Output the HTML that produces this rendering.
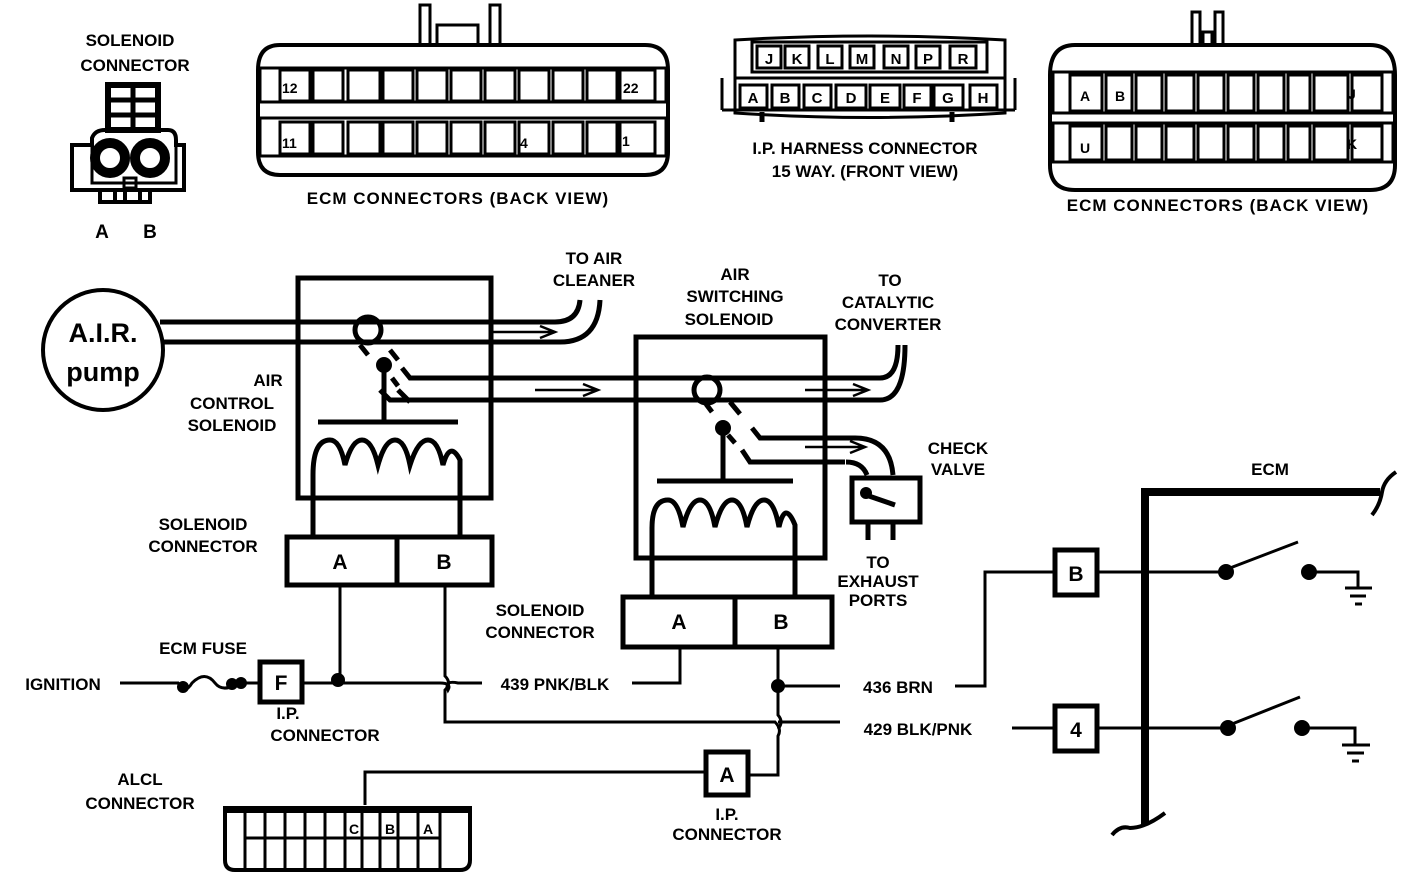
<!DOCTYPE html>
<html><head><meta charset="utf-8"><style>
html,body{margin:0;padding:0;background:#fff;}
svg{display:block;}
text{font-family:"Liberation Sans",sans-serif;font-weight:bold;fill:#000;}
</style></head><body>
<svg width="1408" height="876" viewBox="0 0 1408 876" xmlns="http://www.w3.org/2000/svg">
<g fill="none" stroke="#000" stroke-width="4">

<!-- Solenoid connector icon -->
<rect x="108" y="85" width="50" height="45" stroke-width="6"/>
<line x1="108" y1="100" x2="158" y2="100" stroke-width="5"/>
<line x1="108" y1="115" x2="158" y2="115" stroke-width="5"/>
<line x1="133" y1="85" x2="133" y2="130" stroke-width="5"/>
<path d="M72 145 H92 V138 Q95 130 105 130 H168 Q176 130 176 140 V145 H184 V190 H72 Z" stroke-width="4"/>
<path d="M92 145 V183 H176 V145" stroke-width="3"/>
<circle cx="110" cy="158" r="15" stroke-width="10"/>
<circle cx="150" cy="158" r="15" stroke-width="10"/>
<rect x="124" y="178" width="12" height="10" stroke-width="3"/>
<path d="M100 190 V202 H150 V190 M115 190 V202 M125 190 V202 M140 190 V202" stroke-width="4"/>

<!-- ECM connector 1 -->
<path d="M420 45 V5 H430 V45 M490 45 V5 H500 V45 M437 45 V25 H478 V45" stroke-width="3"/>
<path d="M280 45 H645 Q668 45 668 70 V152 Q668 175 645 175 H280 Q258 175 258 152 V70 Q258 45 280 45 Z" stroke-width="4"/>
<rect x="260" y="68" width="406" height="34" stroke-width="3"/>
<rect x="260" y="118" width="406" height="38" stroke-width="3"/>
<g stroke-width="3">
<rect x="280" y="70" width="30" height="31"/><rect x="313" y="70" width="30" height="31"/><rect x="348" y="70" width="32" height="31"/><rect x="383" y="70" width="30" height="31"/><rect x="417" y="70" width="30" height="31"/><rect x="451" y="70" width="30" height="31"/><rect x="485" y="70" width="30" height="31"/><rect x="519" y="70" width="30" height="31"/><rect x="553" y="70" width="30" height="31"/><rect x="587" y="70" width="30" height="31"/><rect x="620" y="70" width="35" height="31"/>
<rect x="280" y="122" width="30" height="32"/><rect x="313" y="122" width="30" height="32"/><rect x="348" y="122" width="32" height="32"/><rect x="383" y="122" width="30" height="32"/><rect x="417" y="122" width="30" height="32"/><rect x="451" y="122" width="30" height="32"/><rect x="485" y="122" width="30" height="32"/><rect x="519" y="122" width="30" height="32"/><rect x="553" y="122" width="30" height="32"/><rect x="587" y="122" width="30" height="32"/><rect x="620" y="122" width="35" height="32"/>
</g>

<!-- IP harness connector -->
<path d="M735 40 Q870 32 1005 40 V113 Q870 122 735 113 Z" stroke-width="3"/>
<path d="M722 78 V110 M1015 78 V110 M722 110 H1015 M735 78 H1005" stroke-width="3"/>
<rect x="752" y="42" width="235" height="30" stroke-width="3"/>
<g stroke-width="3">
<rect x="757" y="46" width="24" height="22"/><rect x="785" y="46" width="24" height="22"/><rect x="818" y="46" width="24" height="22"/><rect x="850" y="46" width="24" height="22"/><rect x="884" y="46" width="24" height="22"/><rect x="916" y="46" width="24" height="22"/><rect x="950" y="46" width="26" height="22"/>
<rect x="740" y="85" width="27" height="23"/><rect x="772" y="85" width="27" height="23"/><rect x="804" y="85" width="27" height="23"/><rect x="836" y="85" width="30" height="23"/><rect x="870" y="85" width="30" height="23"/><rect x="904" y="85" width="27" height="23"/><rect x="934" y="85" width="29" height="23"/><rect x="970" y="85" width="27" height="23"/>
</g>
<path d="M762 112 V122 M952 112 V122" stroke-width="5"/>

<!-- ECM connector 2 -->
<path d="M1192 45 V12 H1200 V45 M1215 45 V12 H1223 V45 M1203 45 V32 H1212 V45" stroke-width="3"/>
<path d="M1075 45 H1370 Q1395 45 1395 75 V165 Q1395 190 1370 190 H1075 Q1050 190 1050 165 V75 Q1050 45 1075 45 Z" stroke-width="4"/>
<rect x="1053" y="72" width="340" height="41" stroke-width="3"/>
<rect x="1053" y="123" width="340" height="39" stroke-width="3"/>
<g stroke-width="3">
<rect x="1070" y="75" width="32" height="36"/><rect x="1106" y="75" width="26" height="36"/><rect x="1136" y="75" width="26" height="36"/><rect x="1166" y="75" width="28" height="36"/><rect x="1198" y="75" width="26" height="36"/><rect x="1228" y="75" width="26" height="36"/><rect x="1258" y="75" width="26" height="36"/><rect x="1288" y="75" width="22" height="36"/><rect x="1314" y="75" width="34" height="36"/><rect x="1352" y="75" width="30" height="36"/>
<rect x="1070" y="126" width="32" height="34"/><rect x="1106" y="126" width="26" height="34"/><rect x="1136" y="126" width="26" height="34"/><rect x="1166" y="126" width="28" height="34"/><rect x="1198" y="126" width="26" height="34"/><rect x="1228" y="126" width="26" height="34"/><rect x="1258" y="126" width="26" height="34"/><rect x="1288" y="126" width="22" height="34"/><rect x="1314" y="126" width="34" height="34"/><rect x="1352" y="126" width="30" height="34"/>
</g>

<!-- AIR pump -->
<circle cx="103" cy="350" r="60" stroke-width="4"/>

<!-- Air control solenoid -->
<rect x="298" y="278" width="193" height="220" stroke-width="5"/>
<path d="M160 322 H555 Q578 322 580 300" stroke-width="5"/>
<path d="M163 342 H560 Q598 342 600 300" stroke-width="5"/>
<circle cx="368" cy="330" r="13" stroke-width="5"/>
<circle cx="384" cy="365" r="6" fill="#000"/>
<path d="M384 365 V420 M318 422 H458" stroke-width="5"/>
<path d="M360 345 L368 355 M390 350 L398 360 M392 378 L398 386 M402 368 L410 378 L420 378 H880 Q898 378 898 345 M380 390 L390 400 H880 Q905 400 905 345 M398 390 L410 402" stroke-width="5"/>
<path d="M313 537 V475 Q313 440 330 440 Q340 440 345 465 Q352 440 362 440 Q372 440 378 465 Q385 440 395 440 Q405 440 410 465 Q418 440 428 440 Q438 440 443 465 Q450 440 460 460 V537" stroke-width="5"/>
<rect x="287" y="537" width="205" height="48" stroke-width="5"/>
<line x1="397" y1="537" x2="397" y2="585" stroke-width="5"/>

<!-- arrows -->
<path d="M492 332 H553 M540 326 L555 332 L540 338" stroke-width="2.5"/>
<path d="M535 390 H598 M583 384 L598 390 L583 396" stroke-width="2.5"/>
<path d="M805 390 H868 M853 384 L868 390 L853 396" stroke-width="2.5"/>
<path d="M805 447 H865 M850 441 L865 447 L850 453" stroke-width="2.5"/>

<!-- Air switching solenoid -->
<rect x="636" y="337" width="189" height="221" stroke-width="5"/>
<circle cx="707" cy="390" r="13" stroke-width="5"/>
<circle cx="723" cy="428" r="6" fill="#000"/>
<path d="M723 428 V481 M657 481 H793" stroke-width="5"/>
<path d="M706 404 L712 412 M730 402 L740 414 M728 435 L735 443 M752 428 L760 438 H855 Q890 438 893 475 M742 450 L750 462 H845 M846 462 Q862 462 867 475" stroke-width="5"/>
<path d="M652 598 V528 Q652 500 668 500 Q678 500 683 527 Q690 500 700 500 Q710 500 715 527 Q722 500 732 500 Q742 500 747 527 Q754 500 764 500 Q774 500 779 527 Q785 500 795 525 V598" stroke-width="5"/>
<rect x="623" y="597" width="209" height="50" stroke-width="5"/>
<line x1="735" y1="597" x2="735" y2="647" stroke-width="5"/>

<!-- check valve -->
<rect x="852" y="478" width="68" height="44" stroke-width="5"/>
<path d="M866 495 L895 505" stroke-width="5"/>
<circle cx="866" cy="493" r="4" fill="#000"/>
<path d="M868 522 V540 M893 522 V540" stroke-width="5"/>

<!-- wires -->
<path d="M120 683 H178 Q185 695 192 683 Q205 670 215 683 Q222 692 235 685" stroke-width="3"/>
<circle cx="183" cy="687" r="4" fill="#000"/>
<circle cx="232" cy="684" r="4" fill="#000"/>
<circle cx="241" cy="683" r="4" fill="#000"/>
<path d="M244 683 H260" stroke-width="3"/>
<rect x="260" y="662" width="42" height="40" stroke-width="5"/>
<path d="M302 683 H440 Q452 683 448 690 Q444 680 458 683 H482" stroke-width="3"/>
<circle cx="338" cy="680" r="5" fill="#000"/>
<path d="M340 585 V683" stroke-width="3"/>
<path d="M445 585 V676 Q452 683 445 690 V722 H775 Q782 729 778 736 V775 H748" stroke-width="3"/>
<path d="M778 722 H840" stroke-width="3"/>
<path d="M632 683 H680 V647" stroke-width="3"/>
<path d="M778 647 V715 Q784 722 778 729" stroke-width="3"/>
<circle cx="778" cy="686" r="5" fill="#000"/>
<path d="M778 686 H840" stroke-width="3"/>
<path d="M955 686 H985 V572 H1055" stroke-width="3"/>
<rect x="706" y="752" width="42" height="43" stroke-width="5"/>
<path d="M706 772 H365 V805" stroke-width="3"/>

<!-- ALCL -->
<path d="M225 808 H470 V860 Q470 870 460 870 H235 Q225 870 225 860 Z" stroke-width="4"/>
<path d="M225 810 H470" stroke-width="6"/>
<path d="M245 810 V870 M265 810 V870 M285 810 V870 M305 810 V870 M325 810 V870 M345 810 V870 M362 810 V870 M380 810 V870 M398 810 V870 M418 810 V870 M440 810 V870 M245 838 H440" stroke-width="3"/>

<!-- ECM right -->
<rect x="1055" y="550" width="42" height="45" stroke-width="5"/>
<rect x="1055" y="706" width="42" height="45" stroke-width="5"/>
<path d="M1145 825 V492 H1380" stroke-width="8"/>
<path d="M1372 515 Q1380 505 1382 492 Q1384 480 1396 472" stroke-width="4"/>
<path d="M1112 835 Q1120 825 1130 828 Q1145 828 1165 813" stroke-width="4"/>
<path d="M1097 572 H1225 M1230 568 L1298 542 M1310 572 H1358 V588 M1345 588 H1372 M1350 596 H1366 M1355 604 H1362" stroke-width="3"/>
<circle cx="1226" cy="572" r="6" fill="#000"/>
<circle cx="1309" cy="572" r="6" fill="#000"/>
<path d="M1012 728 H1055 M1097 728 H1227 M1232 724 L1300 697 M1302 728 H1355 V745 M1342 745 H1370 M1347 753 H1364 M1352 761 H1359" stroke-width="3"/>
<circle cx="1228" cy="728" r="6" fill="#000"/>
<circle cx="1302" cy="728" r="6" fill="#000"/>
</g>

<!-- Text -->
<g font-size="17">
<text x="130" y="46" text-anchor="middle">SOLENOID</text>
<text x="135" y="71" text-anchor="middle">CONNECTOR</text>
<text x="102" y="238" text-anchor="middle" font-size="19">A</text>
<text x="150" y="238" text-anchor="middle" font-size="19">B</text>
<text x="458" y="204" text-anchor="middle" font-size="17" letter-spacing="1">ECM CONNECTORS (BACK VIEW)</text>
<text x="865" y="154" text-anchor="middle">I.P. HARNESS CONNECTOR</text>
<text x="865" y="177" text-anchor="middle">15 WAY. (FRONT VIEW)</text>
<text x="1218" y="211" text-anchor="middle" letter-spacing="1">ECM CONNECTORS (BACK VIEW)</text>
</g>
<g font-size="14">
<text x="282" y="93">12</text><text x="623" y="93">22</text>
<text x="282" y="148">11</text><text x="520" y="148">4</text><text x="622" y="146">1</text>
<text x="1080" y="101">A</text><text x="1115" y="101">B</text><text x="1348" y="99">J</text>
<text x="1080" y="153">U</text><text x="1347" y="149">K</text>
</g>
<g font-size="15" text-anchor="middle">
<text x="769" y="64">J</text><text x="797" y="64">K</text><text x="830" y="64">L</text><text x="862" y="64">M</text><text x="896" y="64">N</text><text x="928" y="64">P</text><text x="963" y="64">R</text>
<text x="753" y="103">A</text><text x="785" y="103">B</text><text x="817" y="103">C</text><text x="851" y="103">D</text><text x="885" y="103">E</text><text x="917" y="103">F</text><text x="948" y="103">G</text><text x="983" y="103">H</text>
</g>
<g font-size="27" text-anchor="middle">
<text x="103" y="342">A.I.R.</text>
<text x="103" y="381">pump</text>
</g>
<g font-size="17" text-anchor="middle">
<text x="594" y="264">TO AIR</text>
<text x="594" y="286">CLEANER</text>
<text x="735" y="280">AIR</text>
<text x="735" y="302">SWITCHING</text>
<text x="729" y="325">SOLENOID</text>
<text x="890" y="286">TO</text>
<text x="888" y="308">CATALYTIC</text>
<text x="888" y="330">CONVERTER</text>
<text x="268" y="386">AIR</text>
<text x="232" y="409">CONTROL</text>
<text x="232" y="431">SOLENOID</text>
<text x="958" y="454">CHECK</text>
<text x="958" y="475">VALVE</text>
<text x="878" y="568">TO</text>
<text x="878" y="587">EXHAUST</text>
<text x="878" y="606">PORTS</text>
<text x="203" y="530">SOLENOID</text>
<text x="203" y="552">CONNECTOR</text>
<text x="540" y="616">SOLENOID</text>
<text x="540" y="638">CONNECTOR</text>
<text x="1270" y="475">ECM</text>
<text x="203" y="654">ECM FUSE</text>
<text x="63" y="690">IGNITION</text>
<text x="555" y="690">439 PNK/BLK</text>
<text x="898" y="693">436 BRN</text>
<text x="918" y="735">429 BLK/PNK</text>
<text x="288" y="719">I.P.</text>
<text x="325" y="741">CONNECTOR</text>
<text x="140" y="785">ALCL</text>
<text x="140" y="809">CONNECTOR</text>
<text x="727" y="820">I.P.</text>
<text x="727" y="840">CONNECTOR</text>
</g>
<g font-size="21" text-anchor="middle">
<text x="340" y="569">A</text><text x="444" y="569">B</text>
<text x="679" y="629">A</text><text x="781" y="629">B</text>
<text x="281" y="690">F</text>
<text x="727" y="782">A</text>
<text x="1076" y="581">B</text>
<text x="1076" y="737">4</text>
</g>
<g font-size="14" text-anchor="middle">
<text x="354" y="834">C</text><text x="390" y="834">B</text><text x="428" y="834">A</text>
</g>
</svg>
</body></html>
